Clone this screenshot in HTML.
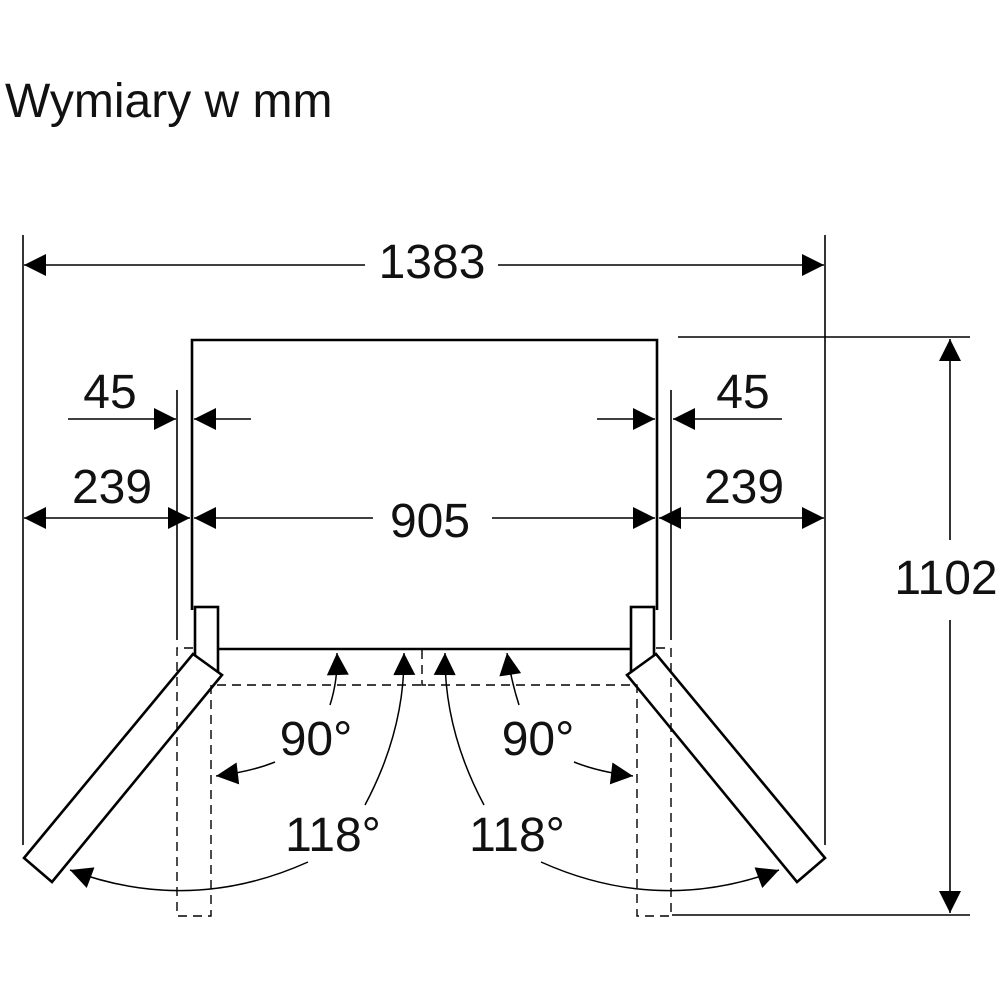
<!DOCTYPE html>
<html><head><meta charset="utf-8"><style>
html,body{margin:0;padding:0;background:#fff;}
svg{display:block}
text{font-family:"Liberation Sans",sans-serif;fill:#111}
</style></head><body>
<svg width="1000" height="1000" viewBox="0 0 1000 1000" xmlns="http://www.w3.org/2000/svg">
<defs>
<marker id="a" viewBox="0 0 10 10" refX="10" refY="5" markerWidth="26" markerHeight="22" markerUnits="userSpaceOnUse" orient="auto"><path d="M0,0 L10,5 L0,10 z" fill="#000"/></marker>
</defs>
<text x="5" y="117" font-size="48">Wymiary w mm</text>
<g stroke="#000" stroke-width="1.6" fill="none">
<line x1="23" y1="235" x2="23" y2="845"/>
<line x1="825" y1="235" x2="825" y2="845"/>
<line x1="177" y1="390" x2="177" y2="640"/>
<line x1="671" y1="390" x2="671" y2="640"/>
<line x1="678" y1="337" x2="970" y2="337"/>
<line x1="672" y1="915" x2="970" y2="915"/>
<line x1="365" y1="265" x2="24" y2="265" marker-end="url(#a)"/>
<line x1="498" y1="265" x2="824" y2="265" marker-end="url(#a)"/>
<line x1="68" y1="419" x2="176" y2="419" marker-end="url(#a)"/>
<line x1="251" y1="419" x2="194" y2="419" marker-end="url(#a)"/>
<line x1="597" y1="419" x2="655" y2="419" marker-end="url(#a)"/>
<line x1="782" y1="419" x2="673" y2="419" marker-end="url(#a)"/>
<line x1="100" y1="518" x2="24" y2="518" marker-end="url(#a)"/>
<line x1="100" y1="518" x2="190" y2="518" marker-end="url(#a)"/>
<line x1="373" y1="518" x2="194" y2="518" marker-end="url(#a)"/>
<line x1="492" y1="518" x2="655" y2="518" marker-end="url(#a)"/>
<line x1="740" y1="518" x2="659" y2="518" marker-end="url(#a)"/>
<line x1="740" y1="518" x2="824" y2="518" marker-end="url(#a)"/>
<line x1="950" y1="540" x2="950" y2="339" marker-end="url(#a)"/>
<line x1="950" y1="620" x2="950" y2="913" marker-end="url(#a)"/>
</g>
<g stroke="#000" stroke-width="2.6" fill="none">
<polyline points="192,610 192,340 657,340 657,610"/>
<line x1="218" y1="649" x2="631" y2="649"/>
<rect x="195" y="607" width="23" height="64" fill="#fff"/>
<rect x="631" y="607" width="23" height="64" fill="#fff"/>
<polygon points="193,654 222,675 52,882 24,858" fill="#fff"/>
<polygon points="656,654 627,675 797,882 825,858" fill="#fff"/>
</g>
<g stroke="#000" stroke-width="1.4" fill="none" stroke-dasharray="9,6">
<polyline points="193,648 177,648 177,916 211,916 211,685 422,685"/>
<polyline points="656,648 671,648 671,916 637,916 637,685 428,685"/>
<polyline points="422,650 422,685 427,685"/>
</g>
<g stroke="#000" stroke-width="1.5" fill="none">
<path d="M330,705 Q338,680 337,653" marker-end="url(#a)"/>
<path d="M275,762 Q250,772 216,776" marker-end="url(#a)"/>
<path d="M365,805 Q405,730 404,653" marker-end="url(#a)"/>
<path d="M308,862 Q190,915 70,870" marker-end="url(#a)"/>
<path d="M519,705 Q511,680 507,653" marker-end="url(#a)"/>
<path d="M574,762 Q599,772 633,776" marker-end="url(#a)"/>
<path d="M484,805 Q444,730 445,653" marker-end="url(#a)"/>
<path d="M541,862 Q659,915 779,870" marker-end="url(#a)"/>
</g>
<g font-size="48" text-anchor="middle">
<text x="432" y="278">1383</text>
<text x="110" y="408">45</text>
<text x="743" y="408">45</text>
<text x="112" y="503">239</text>
<text x="744" y="503">239</text>
<text x="430" y="537">905</text>
<text x="946" y="594">1102</text>
<text x="316" y="755">90°</text>
<text x="538" y="755">90°</text>
<text x="333" y="851">118°</text>
<text x="517" y="851">118°</text>
</g>
</svg>
</body></html>
